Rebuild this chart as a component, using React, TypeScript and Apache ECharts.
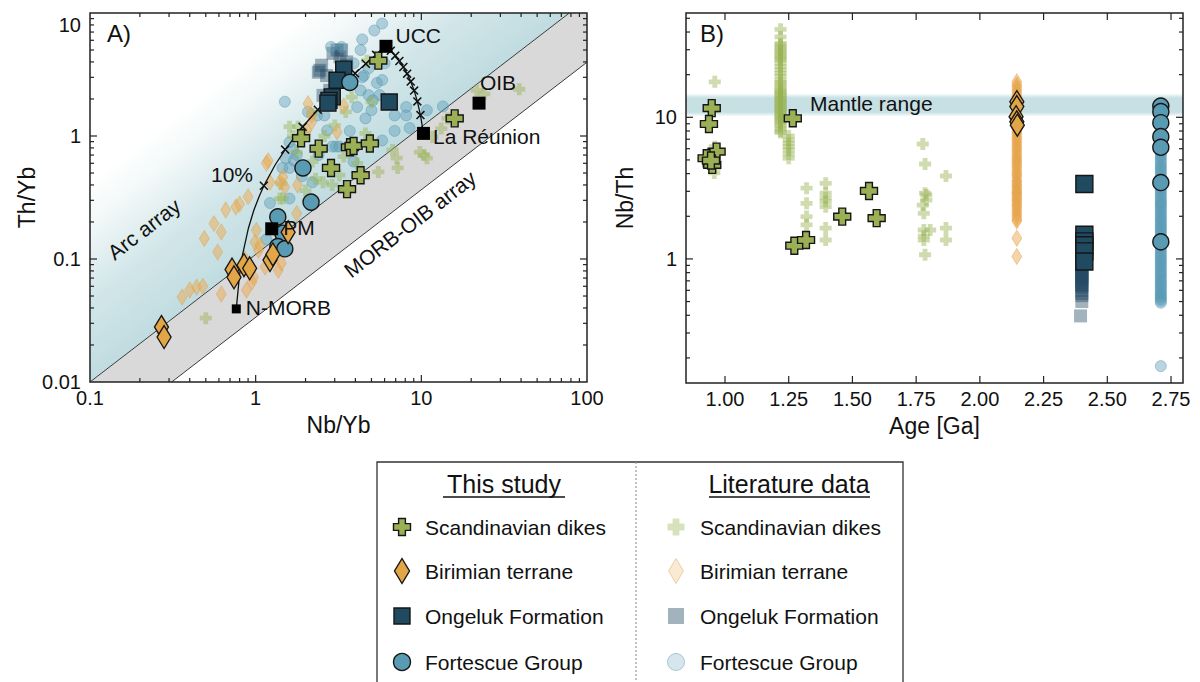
import React, { useEffect, useRef } from "react";
import * as echarts from "echarts";

const FONT = "'Liberation Sans', Arial, Helvetica, sans-serif";
const INK = "#111111";

// ---------------- Panel A: Th/Yb vs Nb/Yb ----------------
// [Nb/Yb, Th/Yb]
const scandStudyA: [number, number][] = [
  [1.88, 0.96], [2.4, 0.79], [3.71, 0.81], [3.9, 0.83], [4.89, 0.87],
  [2.85, 0.55], [4.3, 0.48], [3.56, 0.37], [5.5, 4.1], [15.9, 1.39],
];
const birimStudyA: [number, number][] = [
  [0.27, 0.028], [0.28, 0.0232], [0.72, 0.082], [0.74, 0.071], [0.85, 0.089],
  [0.92, 0.084], [1.22, 0.098], [1.27, 0.109], [1.57, 0.165],
];
const ongelukStudyA: [number, number][] = [
  [3.4, 3.5], [3.1, 2.84], [2.9, 2.08], [2.77, 1.95], [2.73, 1.85], [6.4, 1.89],
];
const fortescueStudyA: [number, number][] = [
  [3.7, 2.73], [1.93, 0.55], [2.16, 0.29], [1.36, 0.22], [1.46, 0.162], [1.36, 0.126], [1.5, 0.121],
];

const scandLitA: [number, number][] = [
  [1.6, 1.19], [1.8, 1.19], [1.98, 1.05], [3.0, 1.22], [3.5, 1.57], [3.8, 2.07], [5.0, 1.89],
  [4.6, 1.05], [7.1, 0.66], [7.2, 0.55], [9.8, 0.74], [10.8, 0.66], [5.5, 0.51], [3.2, 0.48],
  [1.4, 0.31], [2.3, 0.45], [2.55, 0.42], [2.9, 0.4], [1.68, 1.0], [1.77, 0.74], [4.7, 4.1],
  [21.6, 2.35], [24, 2.2], [39, 2.4], [14.4, 1.39], [10.4, 0.7], [11.7, 0.98], [13.2, 1.15],
  [6.7, 0.77], [0.5, 0.033], [1.43, 0.41], [1.46, 0.31], [2.2, 1.52], [2.6, 1.0], [2.2, 0.62],
  [3.4, 0.68], [4.1, 0.6], [2.0, 0.36],
];
const birimLitA: [number, number][] = [
  [0.36, 0.049], [0.4, 0.056], [0.44, 0.059], [0.48, 0.06], [0.49, 0.147], [0.56, 0.194],
  [0.62, 0.166], [0.59, 0.114], [0.66, 0.25], [0.76, 0.265], [0.8, 0.28], [0.9, 0.32],
  [1.01, 0.171], [0.99, 0.137], [1.79, 0.4], [1.77, 0.234], [0.97, 0.071], [0.95, 0.065],
  [0.62, 0.052], [1.04, 0.118], [1.14, 0.086], [1.37, 0.081], [1.43, 0.093], [2.07, 1.83],
  [2.18, 1.47], [3.1, 1.08], [1.19, 0.63], [1.4, 0.42], [1.5, 0.385], [1.22, 0.42], [2.18, 1.3],
  [2.03, 1.11], [1.16, 0.6], [1.46, 0.465], [0.88, 0.056], [0.86, 0.1], [1.06, 0.13], [3.4, 1.75],
];
const ongelukLitA: [number, number][] = [
  [2.5, 3.76], [2.44, 3.42], [2.93, 4.7], [3.3, 5.0], [3.23, 4.4], [3.54, 4.0], [3.54, 3.76],
  [2.8, 2.35], [2.55, 2.14], [3.1, 5.0], [2.39, 3.3], [2.68, 3.1],
];
const fortescueLitA: [number, number][] = [
  [5.8, 8.2], [5.2, 7.2], [4.4, 6.1], [2.85, 5.3], [3.3, 5.3], [4.3, 5.0], [3.9, 3.9], [6.0, 3.9],
  [4.8, 3.55], [4.4, 3.0], [5.4, 2.7], [5.8, 2.85], [4.8, 2.15], [5.1, 1.95], [4.1, 1.72],
  [5.0, 1.62], [4.6, 1.39], [6.9, 1.47], [8.1, 1.72], [8.1, 1.47], [10.8, 1.62], [13.5, 1.74],
  [3.7, 1.1], [2.9, 0.82], [3.05, 0.82], [1.5, 1.9], [2.4, 0.7], [3.9, 0.62], [1.7, 0.63],
  [1.45, 0.55], [1.77, 0.7], [1.22, 0.285], [1.6, 0.31], [1.16, 0.144], [2.35, 1.47], [2.7, 1.11],
  [3.2, 0.82], [5.8, 0.92], [6.9, 1.1], [8.5, 1.16], [4.5, 3.1], [4.3, 2.35], [5.6, 2.15],
  [2.07, 1.57], [2.6, 1.47], [1.52, 0.66], [1.68, 0.78], [1.6, 0.89], [1.6, 0.55], [1.9, 0.47],
  [2.2, 0.42],
];

// Reference reservoirs
const reservoirNames = ["N-MORB", "PM", "UCC", "OIB", "La Réunion"];
const reservoirNbYb = [0.764, 1.25, 6.12, 22.3, 10.3];
const reservoirThYb = [0.0393, 0.176, 5.36, 1.85, 1.05];

// Binary mixing lines (N-MORB -> UCC, UCC -> La Réunion)
const mixMorbUcc: [number, number][] = [
  [0.764, 0.0393], [0.7985, 0.0736], [0.833, 0.1082], [0.904, 0.178], [0.975, 0.249],
  [1.048, 0.321], [1.121, 0.394], [1.31, 0.581], [1.506, 0.775], [1.921, 1.188], [2.371, 1.634],
  [2.86, 2.12], [3.394, 2.649], [3.979, 3.23], [4.622, 3.868], [5.333, 4.573], [6.122, 5.357],
];
const mixUccReunion: [number, number][] = [
  [6.12, 5.36], [6.54, 4.93], [6.96, 4.5], [7.37, 4.07], [7.79, 3.64], [8.21, 3.21],
  [8.63, 2.77], [9.05, 2.34], [9.46, 1.91], [9.88, 1.48], [10.3, 1.05],
];
// 10 % mixing increments
const mixTicks: [number, number][] = [
  [1.121, 0.394], [1.506, 0.775], [1.921, 1.188], [2.371, 1.634], [2.86, 2.12], [3.394, 2.649],
  [3.979, 3.23], [4.622, 3.868], [5.333, 4.573],
  [6.54, 4.93], [6.96, 4.5], [7.37, 4.07], [7.79, 3.64], [8.21, 3.21], [8.63, 2.77],
  [9.05, 2.34], [9.46, 1.91], [9.88, 1.48],
];

// MORB-OIB array boundaries [Nb/Yb, Th/Yb]
const arrayUpper: [number, number][] = [[0.1, 0.01], [78.2, 10]];
const arrayLower: [number, number][] = [[0.311, 0.01], [100, 3.98]];

// ---------------- Panel B: Nb/Th vs age ----------------
// [Age (Ga), Nb/Th]
const scandStudyB: [number, number][] = [
  [0.948, 11.6], [0.937, 8.97], [0.967, 5.72], [0.928, 5.14], [0.95, 4.61], [0.945, 4.95],
  [1.266, 9.84], [1.272, 1.24], [1.318, 1.36], [1.46, 1.99], [1.565, 3.02], [1.595, 1.94],
];
const scandLitB: [number, number][] = [
  [0.96, 17.8], [0.955, 11.2], [0.96, 6.2], [0.958, 5.4], [0.955, 4.8], [0.96, 4.4], [0.958, 4.05],
  [1.218, 41.8], [1.218, 37.0], [1.218, 33.3], [1.218, 32.4], [1.218, 31.0], [1.218, 30.0],
  [1.218, 29.0], [1.218, 28.0], [1.218, 27.0], [1.218, 26.0], [1.218, 25.4], [1.218, 24.0],
  [1.218, 22.8], [1.218, 21.6], [1.218, 20.5], [1.218, 19.5], [1.218, 18.3], [1.218, 17.6],
  [1.218, 16.9], [1.218, 16.2], [1.218, 15.6], [1.218, 15.2], [1.218, 14.8], [1.218, 14.4],
  [1.218, 14.0], [1.218, 13.6], [1.218, 13.2], [1.218, 12.9], [1.218, 12.6], [1.218, 12.2],
  [1.218, 11.9], [1.218, 11.6], [1.218, 11.3], [1.218, 11.0], [1.218, 10.7], [1.218, 10.4],
  [1.218, 10.1], [1.218, 9.85], [1.218, 9.6], [1.218, 9.3], [1.218, 9.07], [1.218, 8.7],
  [1.218, 8.36], [1.218, 8.0], [1.218, 7.8],
  [1.25, 7.38], [1.25, 6.9], [1.25, 6.55], [1.25, 6.2], [1.25, 5.88], [1.25, 5.5], [1.25, 5.14],
  [1.32, 3.16], [1.32, 2.47], [1.32, 1.99], [1.32, 1.74],
  [1.395, 3.42], [1.395, 2.91], [1.395, 2.7], [1.395, 2.54], [1.395, 2.34], [1.395, 1.65], [1.395, 1.36],
  [1.776, 6.48], [1.785, 4.68], [1.785, 2.91], [1.79, 2.83], [1.776, 2.4], [1.78, 2.1], [1.78, 1.6],
  [1.805, 1.6], [1.78, 1.36], [1.785, 1.07], [1.79, 2.6], [1.78, 1.45],
  [1.867, 3.85], [1.867, 1.65], [1.867, 1.36],
];
const birimStudyB: [number, number][] = [
  [2.145, 12.9], [2.145, 11.9], [2.142, 10.1], [2.145, 9.3], [2.147, 8.8],
];
const birimLitB: [number, number][] = [
  [2.145, 17.8], [2.145, 17.0], [2.145, 16.4], [2.145, 15.8], [2.145, 15.2], [2.145, 14.6],
  [2.145, 14.1], [2.145, 13.6], [2.145, 13.2], [2.145, 12.8], [2.145, 12.4], [2.145, 12.0],
  [2.145, 11.6], [2.145, 11.2], [2.145, 10.8], [2.145, 10.4], [2.145, 10.1], [2.145, 9.8],
  [2.145, 9.5], [2.145, 9.2], [2.145, 8.9], [2.145, 8.6], [2.145, 8.3], [2.145, 8.0],
  [2.145, 7.8], [2.145, 7.55], [2.145, 7.3], [2.145, 7.05], [2.145, 6.8], [2.145, 6.6],
  [2.145, 6.4], [2.145, 6.2], [2.145, 6.0], [2.145, 5.8], [2.145, 5.6], [2.145, 5.4],
  [2.145, 5.2], [2.145, 5.05], [2.145, 4.9], [2.145, 4.75], [2.145, 4.6], [2.145, 4.45],
  [2.145, 4.3], [2.145, 4.15], [2.145, 4.0], [2.145, 3.9], [2.145, 3.75], [2.145, 3.6],
  [2.145, 3.5], [2.145, 3.4], [2.145, 3.3], [2.145, 3.2], [2.145, 3.1], [2.145, 3.0],
  [2.145, 2.95], [2.145, 2.88], [2.145, 2.8], [2.145, 2.72], [2.145, 2.65], [2.145, 2.58],
  [2.145, 2.5], [2.145, 2.42], [2.145, 2.35], [2.145, 2.28], [2.145, 2.2], [2.145, 2.12],
  [2.145, 2.05], [2.145, 1.98], [2.145, 1.9], [2.145, 1.85], [2.145, 1.4], [2.145, 1.04],
];
const ongelukStudyB: [number, number][] = [
  [2.41, 3.38], [2.41, 1.48], [2.41, 1.33], [2.41, 1.25], [2.41, 1.13], [2.41, 0.96],
];
const ongelukLitB: [number, number][] = [
  [2.405, 1.42], [2.405, 1.2], [2.4, 1.05], [2.4, 0.95], [2.4, 0.93], [2.4, 0.9], [2.4, 0.88],
  [2.4, 0.86], [2.4, 0.84], [2.4, 0.82], [2.4, 0.8], [2.4, 0.78], [2.4, 0.77], [2.4, 0.75],
  [2.4, 0.73], [2.4, 0.71], [2.4, 0.7], [2.4, 0.68], [2.4, 0.66], [2.4, 0.65], [2.4, 0.63],
  [2.4, 0.6], [2.4, 0.57], [2.4, 0.55], [2.4, 0.5], [2.395, 0.396],
];
const fortescueStudyB: [number, number][] = [
  [2.71, 12.0], [2.71, 10.96], [2.71, 9.16], [2.71, 7.3], [2.71, 6.14], [2.71, 3.46], [2.71, 1.32],
];
const fortescueLitB: [number, number][] = [
  [2.71, 12.2], [2.71, 11.4], [2.71, 10.6], [2.71, 9.9], [2.71, 9.2], [2.71, 8.5], [2.71, 7.9],
  [2.71, 7.3], [2.71, 6.8], [2.71, 6.3], [2.71, 5.8], [2.71, 5.6], [2.71, 5.4], [2.71, 5.2],
  [2.71, 5.0], [2.71, 4.8], [2.71, 4.6], [2.71, 4.45], [2.71, 4.3], [2.71, 4.15], [2.71, 4.0],
  [2.71, 3.85], [2.71, 3.7], [2.71, 3.57], [2.71, 3.45], [2.71, 3.32], [2.71, 3.2], [2.71, 3.1],
  [2.71, 3.0], [2.71, 2.9], [2.71, 2.8], [2.71, 2.7], [2.71, 2.6], [2.71, 2.52], [2.71, 2.45],
  [2.71, 2.38], [2.71, 2.3], [2.71, 2.22], [2.71, 2.15], [2.71, 2.08], [2.71, 2.0], [2.71, 1.94],
  [2.71, 1.88], [2.71, 1.82], [2.71, 1.76], [2.71, 1.7], [2.71, 1.65], [2.71, 1.6], [2.71, 1.55],
  [2.71, 1.5], [2.71, 1.45], [2.71, 1.4], [2.71, 1.36], [2.71, 1.31], [2.71, 1.27], [2.71, 1.23],
  [2.71, 1.19], [2.71, 1.15], [2.71, 1.11], [2.71, 1.07], [2.71, 1.04], [2.71, 1.0], [2.71, 0.97],
  [2.71, 0.94], [2.71, 0.91], [2.71, 0.88], [2.71, 0.85], [2.71, 0.82], [2.71, 0.8], [2.71, 0.77],
  [2.71, 0.75], [2.71, 0.72], [2.71, 0.7], [2.71, 0.68], [2.71, 0.66], [2.71, 0.64], [2.71, 0.62],
  [2.71, 0.6], [2.71, 0.58], [2.71, 0.565], [2.71, 0.55], [2.71, 0.535], [2.71, 0.52],
  [2.71, 0.505], [2.71, 0.49], [2.71, 0.175],
];
// Mantle Nb/Th range
const mantleRange: [number, number] = [10.2, 14.6];

// Axis ticks
const A_X_MAJOR = [0.1, 1, 10, 100];
const A_Y_MAJOR = [0.01, 0.1, 1, 10];
const B_X_MAJOR = [1.0, 1.25, 1.5, 1.75, 2.0, 2.25, 2.5, 2.75];
const B_Y_MAJOR = [1, 10];

// ---------------- styling ----------------
const C_SCAND = "#9bb055";
const C_BIRIM = "#e3a646";
const C_ONGEL = "#1f4a60";
const C_FORT = "#5a9bb4";
const LIT_SCAND = "rgba(150,178,80,0.45)";
const LIT_BIRIM = "rgba(236,170,80,0.5)";
const LIT_BIRIM_EDGE = "rgba(225,160,75,0.55)";
const LIT_ONGEL = "rgba(35,75,100,0.42)";
const LIT_FORT = "rgba(90,155,180,0.42)";
const LIT_FORT_EDGE = "rgba(80,150,180,0.55)";
const EDGE = "#161616";

const CROSS = "path://M3,0H7V3H10V7H7V10H3V7H0V3H3Z";
const XMARK = "path://M0,1.2L1.2,0L10,8.8L8.8,10ZM8.8,0L10,1.2L1.2,10L0,8.8Z";

const logMinors = (lo: number, hi: number) => {
  const out: number[] = [];
  for (let d = 1e-3; d < 1e3; d *= 10) {
    for (let k = 2; k <= 9; k++) {
      const v = +(k * d).toPrecision(3);
      if (v > lo * 1.0001 && v < hi * 0.9999) out.push(v);
    }
  }
  return out;
};

const logFmt = (v: number) => {
  const l = Math.log10(v);
  if (Math.abs(l - Math.round(l)) > 1e-6) return "";
  return String(parseFloat(v.toPrecision(3)));
};

// frame + inward ticks on all four sides of a grid
function frameTicks(
  xMajor: number[], xMinor: number[], yMajor: number[], yMinor: number[], ref: [number, number]
) {
  return (params: any, api: any) => {
    const cs = params.coordSys;
    const l = cs.x, t = cs.y, r = cs.x + cs.width, b = cs.y + cs.height;
    const st = { stroke: "#222", lineWidth: 1.2 };
    const ch: any[] = [];
    const vt = (v: number, len: number) => {
      const px = api.coord([v, ref[1]])[0];
      if (px < l + 0.5 || px > r - 0.5) return;
      ch.push({ type: "line", shape: { x1: px, y1: b, x2: px, y2: b - len }, style: st });
      ch.push({ type: "line", shape: { x1: px, y1: t, x2: px, y2: t + len }, style: st });
    };
    const ht = (v: number, len: number) => {
      const py = api.coord([ref[0], v])[1];
      if (py < t + 0.5 || py > b - 0.5) return;
      ch.push({ type: "line", shape: { x1: l, y1: py, x2: l + len, y2: py }, style: st });
      ch.push({ type: "line", shape: { x1: r, y1: py, x2: r - len, y2: py }, style: st });
    };
    xMajor.forEach((v) => vt(v, 7));
    xMinor.forEach((v) => vt(v, 4));
    yMajor.forEach((v) => ht(v, 7));
    yMinor.forEach((v) => ht(v, 4));
    ch.push({
      type: "rect",
      shape: { x: l, y: t, width: cs.width, height: cs.height },
      style: { fill: "none", stroke: "#222", lineWidth: 1.5 },
    });
    return { type: "group", children: ch };
  };
}

// arc array gradient and MORB-OIB array band
function arraysRender(params: any, api: any) {
  const a = api.coord(arrayUpper[0]);
  const b = api.coord(arrayUpper[1]);
  const tl = api.coord([0.1, 10]);
  const tr = api.coord([100, 10]);
  const lo0 = api.coord(arrayLower[0]);
  const lo1 = api.coord(arrayLower[1]);
  const dx = b[0] - a[0], dy = b[1] - a[1];
  const len = Math.hypot(dx, dy);
  const nx = dy / len, ny = -dx / len;
  const W = 160;
  const grad = new echarts.graphic.LinearGradient(
    a[0], a[1], a[0] + nx * W, a[1] + ny * W,
    [
      { offset: 0, color: "rgb(192,220,224)" },
      { offset: 0.4, color: "rgb(210,230,233)" },
      { offset: 0.8, color: "rgb(244,249,249)" },
      { offset: 1, color: "rgb(255,255,255)" },
    ],
    true
  );
  return {
    type: "group",
    children: [
      { type: "polygon", shape: { points: [a, b, tl] }, style: { fill: grad } },
      { type: "polygon", shape: { points: [a, b, tr, lo1, lo0] }, style: { fill: "#d9d9d9" } },
      { type: "line", shape: { x1: a[0], y1: a[1], x2: b[0], y2: b[1] }, style: { stroke: "#3a3a3a", lineWidth: 1 } },
      { type: "line", shape: { x1: lo0[0], y1: lo0[1], x2: lo1[0], y2: lo1[1] }, style: { stroke: "#3a3a3a", lineWidth: 1 } },
    ],
  };
}

function mantleRender(params: any, api: any) {
  const cs = params.coordSys;
  const top = api.coord([1.5, mantleRange[1]])[1];
  const bot = api.coord([1.5, mantleRange[0]])[1];
  return {
    type: "rect",
    shape: { x: cs.x, y: top, width: cs.width, height: bot - top },
    style: {
      fill: new echarts.graphic.LinearGradient(0, 0, 0, 1, [
        { offset: 0, color: "rgba(196,222,226,0.15)" },
        { offset: 0.18, color: "rgba(196,222,226,0.95)" },
        { offset: 0.82, color: "rgba(196,222,226,0.95)" },
        { offset: 1, color: "rgba(196,222,226,0.15)" },
      ]),
    },
  };
}

const REF_LABEL: Record<string, any> = {
  "N-MORB": { position: "right", distance: 5, offset: [0, -1] },
  PM: { position: "right", distance: 5, offset: [0, -1] },
  UCC: { position: "right", distance: 3, offset: [0, -11] },
  OIB: { position: "top", distance: 4, offset: [19, 0] },
  "La Réunion": { position: "right", distance: 3, offset: [0, 3] },
};

const txt = (text: string, x: number, y: number, size: number, align = "left", extra: any = {}) => ({
  type: "text",
  x,
  y,
  z: 100,
  ...extra,
  style: {
    text,
    fill: INK,
    fontSize: size,
    fontFamily: FONT,
    align,
    textAlign: align,
    verticalAlign: "middle",
    textVerticalAlign: "middle",
  },
});

const crossPts = (cx: number, cy: number, s: number) => {
  const a = s / 2, b = s * 0.2;
  return [
    [cx - b, cy - a], [cx + b, cy - a], [cx + b, cy - b], [cx + a, cy - b], [cx + a, cy + b],
    [cx + b, cy + b], [cx + b, cy + a], [cx - b, cy + a], [cx - b, cy + b], [cx - a, cy + b],
    [cx - a, cy - b], [cx - b, cy - b],
  ];
};
const diamondPts = (cx: number, cy: number, w: number, h: number) => [
  [cx, cy - h / 2], [cx + w / 2, cy], [cx, cy + h / 2], [cx - w / 2, cy],
];

function legendGraphics() {
  const g: any[] = [];
  const L = 377, T = 462, R = 903;
  g.push({ type: "rect", z: 90, shape: { x: L, y: T, width: R - L, height: 260 }, style: { fill: "#fff", stroke: "#333", lineWidth: 1.3 } });
  g.push({ type: "line", z: 95, shape: { x1: 636, y1: T, x2: 636, y2: 682 }, style: { stroke: "#9a9a9a", lineWidth: 1.2, lineDash: [2, 2] } });
  g.push(txt("This study", 504, 484, 25, "center"));
  g.push({ type: "line", z: 95, shape: { x1: 443, y1: 497, x2: 565, y2: 497 }, style: { stroke: INK, lineWidth: 1.3 } });
  g.push(txt("Literature data", 789, 484, 25, "center"));
  g.push({ type: "line", z: 95, shape: { x1: 709, y1: 497, x2: 870, y2: 497 }, style: { stroke: INK, lineWidth: 1.3 } });
  const rows = [527, 571, 616, 662];
  const names = ["Scandinavian dikes", "Birimian terrane", "Ongeluk Formation", "Fortescue Group"];
  const cols = [
    { sx: 402, tx: 425, lit: false },
    { sx: 676, tx: 700, lit: true },
  ];
  cols.forEach((c) => {
    rows.forEach((y, i) => {
      let el: any;
      if (i === 0) {
        el = { type: "polygon", shape: { points: crossPts(c.sx, y, 17) }, style: c.lit ? { fill: "rgba(150,178,80,0.38)" } : { fill: C_SCAND, stroke: EDGE, lineWidth: 1.4 } };
      } else if (i === 1) {
        el = { type: "polygon", shape: { points: diamondPts(c.sx, y, 15, 25) }, style: c.lit ? { fill: "rgba(236,170,80,0.25)", stroke: "rgba(225,160,75,0.45)", lineWidth: 1 } : { fill: C_BIRIM, stroke: EDGE, lineWidth: 1.4 } };
      } else if (i === 2) {
        el = { type: "rect", shape: { x: c.sx - 8, y: y - 8, width: 16, height: 16 }, style: c.lit ? { fill: LIT_ONGEL } : { fill: C_ONGEL, stroke: EDGE, lineWidth: 1.4 } };
      } else {
        el = { type: "circle", shape: { cx: c.sx, cy: y, r: 8.5 }, style: c.lit ? { fill: "rgba(90,155,180,0.25)", stroke: "rgba(80,150,180,0.45)", lineWidth: 1 } : { fill: C_FORT, stroke: EDGE, lineWidth: 1.4 } };
      }
      el.z = 96;
      g.push(el);
      g.push(txt(names[i], c.tx, y, 21, "left"));
    });
  });
  return g;
}

function buildOption(): any {
  const labelStyle = { fontSize: 20, color: INK, fontFamily: FONT };
  const nameStyle = { fontSize: 23, color: INK, fontFamily: FONT };
  const noAxisDecor = { axisLine: { show: false }, axisTick: { show: false }, splitLine: { show: false } };

  const study = (data: any, sym: string, size: any, color: string, xi: number, z = 5) => ({
    type: "scatter", xAxisIndex: xi, yAxisIndex: xi, data, symbol: sym, symbolSize: size, z,
    itemStyle: { color, borderColor: EDGE, borderWidth: 1.4, opacity: 1 },
    silent: true,
  });
  const lit = (data: any, sym: string, size: any, color: string, xi: number, border?: string) => ({
    type: "scatter", xAxisIndex: xi, yAxisIndex: xi, data, symbol: sym, symbolSize: size, z: 3,
    itemStyle: border ? { color, borderColor: border, borderWidth: 0.8, opacity: 1 } : { color, opacity: 1 },
    silent: true,
  });

  const refData = reservoirNames.map((n, i) => ({
    name: n,
    value: [reservoirNbYb[i], reservoirThYb[i]],
    symbolSize: n === "N-MORB" ? 9 : 13,
    label: { show: true, formatter: n, color: INK, fontSize: 21, fontFamily: FONT, ...REF_LABEL[n] },
  }));

  return {
    animation: false,
    backgroundColor: "#ffffff",
    grid: [
      { left: 90, top: 13, width: 497, height: 369 },
      { left: 686, top: 13, width: 497, height: 370 },
    ],
    xAxis: [
      {
        gridIndex: 0, type: "log", logBase: 10, min: 0.1, max: 100, ...noAxisDecor,
        axisLabel: { ...labelStyle, margin: 6, formatter: logFmt },
        name: "Nb/Yb", nameLocation: "middle", nameGap: 31, nameMoveOverlap: false, nameTextStyle: nameStyle,
      },
      {
        gridIndex: 1, type: "value", min: 0.847, max: 2.797, ...noAxisDecor,
        axisLabel: { ...labelStyle, margin: 6, customValues: B_X_MAJOR, formatter: (v: number) => v.toFixed(2) },
        name: "Age [Ga]", nameLocation: "middle", nameGap: 31, nameMoveOverlap: false, nameTextStyle: nameStyle,
      },
    ],
    yAxis: [
      {
        gridIndex: 0, type: "log", logBase: 10, min: 0.01, max: 10, ...noAxisDecor,
        axisLabel: { ...labelStyle, margin: 9, formatter: (v: number) => (v > 9.99 ? "" : logFmt(v)) },
        name: "Th/Yb", nameLocation: "middle", nameGap: 52, nameMoveOverlap: false, nameTextStyle: nameStyle,
      },
      {
        gridIndex: 1, type: "log", logBase: 10, min: 0.133, max: 54.5, ...noAxisDecor,
        axisLabel: { ...labelStyle, margin: 9, formatter: logFmt },
        name: "Nb/Th", nameLocation: "middle", nameGap: 50, nameMoveOverlap: false, nameTextStyle: nameStyle,
      },
    ],
    series: [
      // ---- panel A ----
      { type: "custom", xAxisIndex: 0, yAxisIndex: 0, data: [[1, 1]], renderItem: arraysRender, z: 0, silent: true },
      lit(ongelukLitA, "rect", 13, LIT_ONGEL, 0),
      lit(fortescueLitA, "circle", 11, LIT_FORT, 0, LIT_FORT_EDGE),
      lit(scandLitA, CROSS, 12, LIT_SCAND, 0),
      lit(birimLitA, "diamond", [10, 16], LIT_BIRIM, 0, LIT_BIRIM_EDGE),
      {
        type: "line", xAxisIndex: 0, yAxisIndex: 0, data: mixMorbUcc, showSymbol: false, symbol: "none",
        lineStyle: { color: "#111", width: 1.3 }, z: 4, silent: true,
      },
      {
        type: "line", xAxisIndex: 0, yAxisIndex: 0, data: mixUccReunion, showSymbol: false, symbol: "none",
        lineStyle: { color: "#111", width: 1.3 }, z: 4, silent: true,
      },
      {
        type: "scatter", xAxisIndex: 0, yAxisIndex: 0, data: mixTicks, symbol: XMARK, symbolSize: 9,
        itemStyle: { color: "#111", opacity: 1 }, z: 4, silent: true,
      },
      study(ongelukStudyA, "rect", 16, C_ONGEL, 0),
      study(fortescueStudyA, "circle", 16, C_FORT, 0),
      study(birimStudyA, "diamond", [14, 23], C_BIRIM, 0),
      study(scandStudyA, CROSS, 17, C_SCAND, 0),
      {
        type: "scatter", xAxisIndex: 0, yAxisIndex: 0, data: refData, symbol: "rect",
        itemStyle: { color: "#000", opacity: 1 }, z: 6, silent: true,
      },
      {
        type: "custom", xAxisIndex: 0, yAxisIndex: 0, data: [[1, 1]], z: 10, silent: true,
        renderItem: frameTicks(A_X_MAJOR, logMinors(0.1, 100), A_Y_MAJOR, logMinors(0.01, 10), [1, 1]),
      },
      // ---- panel B ----
      { type: "custom", xAxisIndex: 1, yAxisIndex: 1, data: [[1.5, 1]], renderItem: mantleRender, z: 0, silent: true },
      lit(ongelukLitB, "rect", 13, LIT_ONGEL, 1),
      lit(fortescueLitB, "circle", 11, LIT_FORT, 1, LIT_FORT_EDGE),
      lit(scandLitB, CROSS, 12, LIT_SCAND, 1),
      lit(birimLitB, "diamond", [10, 16], LIT_BIRIM, 1, LIT_BIRIM_EDGE),
      study(ongelukStudyB, "rect", 17, C_ONGEL, 1),
      study(fortescueStudyB, "circle", 16, C_FORT, 1),
      study(birimStudyB, "diamond", [14, 22], C_BIRIM, 1),
      study(scandStudyB, CROSS, 17, C_SCAND, 1),
      {
        type: "custom", xAxisIndex: 1, yAxisIndex: 1, data: [[1.5, 1]], z: 10, silent: true,
        renderItem: frameTicks(B_X_MAJOR, [], B_Y_MAJOR, logMinors(0.133, 54.5), [1.5, 1]),
      },
    ],
    graphic: [
      txt("A)", 107, 33, 24, "left"),
      txt("B)", 700, 33, 24, "left"),
      txt("10", 81, 25, 20, "right"),
      txt("10%", 232, 174, 21, "center"),
      txt("Arc array", 144, 229, 21, "center", { rotation: 0.656 }),
      txt("MORB-OIB array", 410, 224, 21, "center", { rotation: 0.656 }),
      txt("Mantle range", 810, 103, 21, "left"),
      ...legendGraphics(),
    ],
  };
}

export default function App() {
  const ref = useRef<HTMLDivElement>(null);
  useEffect(() => {
    if (!ref.current) return;
    const chart = echarts.init(ref.current, undefined, { renderer: "svg" });
    chart.setOption(buildOption());
    return () => chart.dispose();
  }, []);
  return (
    <div
      ref={ref}
      style={{ position: "fixed", left: 0, top: 0, width: 1200, height: 682, background: "#fff" }}
    />
  );
}
